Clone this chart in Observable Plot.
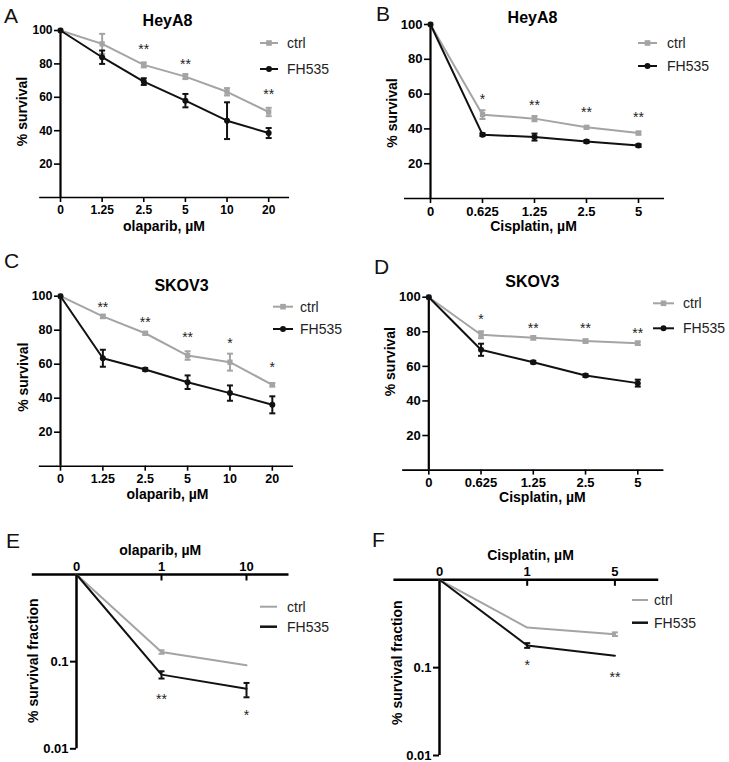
<!DOCTYPE html>
<html>
<head>
<meta charset="utf-8">
<script src="https://cdn.jsdelivr.net/npm/d3@7"></script>
<script src="https://cdn.jsdelivr.net/npm/@observablehq/plot@0.6"></script>
<style>
  html, body { margin: 0; padding: 0; background: #fff; }
  #fig { position: relative; width: 729px; height: 762px; overflow: hidden; background: #fff;
         font-family: "Liberation Sans", Arial, sans-serif; }
  .panel { position: absolute; }
  #overlay { position: absolute; left: 0; top: 0; pointer-events: none; }
</style>
</head>
<body>
<div id="fig"></div>
<script>
// ---------------- DATA ----------------
const olaparibDoses = ["0", "1.25", "2.5", "5", "10", "20"];
const cisplatinDoses = ["0", "0.625", "1.25", "2.5", "5"];
const survivalTicks = [20, 40, 60, 80, 100];

// A: HeyA8, olaparib
const heyA8OlaCtrl    = [100, 92, 79.4, 72.4, 63.3, 51.2];
const heyA8OlaCtrlErr = [0, 6, 1.5, 1.5, 2.2, 2.5];
const heyA8OlaFH      = [100, 84, 69.4, 58, 46, 38.6];
const heyA8OlaFHErr   = [0, 4, 2, 4, 11, 3];
const heyA8OlaSig     = ["", "", "**", "**", "", "**"];
const heyA8OlaSigY    = [null, null, 91, 82, null, 64];

// B: HeyA8, cisplatin
const heyA8CisCtrl    = [100, 48.2, 45.9, 40.9, 37.6];
const heyA8CisCtrlErr = [0, 2.5, 1.5, 0.8, 0.8];
const heyA8CisFH      = [100, 36.7, 35.3, 32.7, 30.4];
const heyA8CisFHErr   = [0, 0.8, 2, 0.8, 0.8];
const heyA8CisSig     = ["", "*", "**", "**", "**"];
const heyA8CisSigY    = [null, 59.3, 56, 51.6, 48.8];

// C: SKOV3, olaparib
const skov3OlaCtrl    = [100, 88.1, 78.2, 65.1, 61.2, 47.9];
const skov3OlaCtrlErr = [0, 1, 0.8, 2.5, 5, 1];
const skov3OlaFH      = [100, 63.5, 56.9, 49.4, 43, 36.1];
const skov3OlaFHErr   = [0, 5, 0.8, 4, 4.5, 5];
const skov3OlaSig     = ["", "**", "**", "**", "*", "*"];
const skov3OlaSigY    = [null, 95.9, 86.7, 77.9, 74.3, 60.2];

// D: SKOV3, cisplatin
const skov3CisCtrl    = [100, 78.3, 76.5, 74.6, 73.4];
const skov3CisCtrlErr = [0, 2, 1, 1, 1];
const skov3CisFH      = [100, 69.6, 62.4, 54.7, 50.3];
const skov3CisFHErr   = [0, 3.5, 0.8, 0.8, 2];
const skov3CisSig     = ["", "*", "**", "**", "**"];
const skov3CisSigY    = [null, 89.4, 84.2, 84.2, 81.3];

// E: survival fraction, olaparib (log scale)
const colonyOlaDoses  = ["0", "1", "10"];
const colonyOlaCtrl   = [1, 0.129, 0.0908];
const colonyOlaCtrlLo = [null, 0.123, null];
const colonyOlaCtrlHi = [null, 0.135, null];
const colonyOlaFH     = [1, 0.071, 0.049];
const colonyOlaFHLo   = [null, 0.064, 0.039];
const colonyOlaFHHi   = [null, 0.0775, 0.057];
const colonyOlaSig    = ["", "**", "*"];
const colonyOlaSigY   = [null, 0.041, 0.0265];

// F: survival fraction, cisplatin (log scale)
const colonyCisDoses  = ["0", "1", "5"];
const colonyCisCtrl   = [1, 0.286, 0.240];
const colonyCisCtrlLo = [null, null, 0.229];
const colonyCisCtrlHi = [null, null, 0.252];
const colonyCisFH     = [1, 0.179, 0.137];
const colonyCisFHLo   = [null, 0.168, null];
const colonyCisFHHi   = [null, 0.19, null];
const colonyCisSig    = ["", "*", "**"];
const colonyCisSigY   = [null, 0.117, 0.0865];
const fractionTicks   = [0.01, 0.1];
const fractionTickLabels = ["0.01", "0.1"];

// ---------------- STYLE ----------------
const GRAY = "#a4a4a4";
const BLACK = "#111111";
const FONT = "'Liberation Sans', Arial, sans-serif";
const capSym = {draw(ctx) { ctx.moveTo(-3, 0); ctx.lineTo(3, 0); }};
const inTickSym = {draw(ctx) { ctx.moveTo(0, 0); ctx.lineTo(0, 6); }};

const fig = document.getElementById("fig");

function place(el, left, top) {
  const div = document.createElement("div");
  div.className = "panel";
  div.style.left = left + "px";
  div.style.top = top + "px";
  div.appendChild(el);
  fig.appendChild(div);
}

function rowsLinear(values, errs) {
  return values.map((v, i) => ({i, v, lo: v - errs[i], hi: v + errs[i], err: errs[i]}));
}
function rowsLog(values, lo, hi) {
  return values.map((v, i) => ({i, v, lo: lo[i], hi: hi[i], err: lo[i] != null ? 1 : 0}));
}

function errorMarks(rows, color, sw) {
  const e = rows.filter(d => d.err > 0);
  return [
    Plot.ruleX(e, {x: "i", y1: "lo", y2: "hi", stroke: color, strokeWidth: sw}),
    Plot.dot(e, {x: "i", y: "lo", symbol: capSym, stroke: color, strokeWidth: sw, fill: "none"}),
    Plot.dot(e, {x: "i", y: "hi", symbol: capSym, stroke: color, strokeWidth: sw, fill: "none"})
  ];
}

function survivalPanel(cfg) {
  const n = cfg.doses.length;
  const idx = cfg.doses.map((_, i) => i);
  const c = rowsLinear(cfg.ctrl, cfg.ctrlErr);
  const f = rowsLinear(cfg.fh, cfg.fhErr);
  const sig = cfg.sig.map((s, i) => ({i, s, y: cfg.sigY[i]})).filter(d => d.s);
  const [fl, fr, ft, fb] = cfg.frame;
  return Plot.plot({
    width: cfg.w, height: cfg.h,
    marginLeft: fl, marginRight: cfg.w - fr, marginTop: ft, marginBottom: cfg.h - fb,
    x: {type: "linear", domain: [0, n - 0.5]},
    y: {type: "linear", domain: [0, 100]},
    style: {background: "transparent", overflow: "visible", fontFamily: FONT, color: "black"},
    marks: [
      Plot.ruleY([0], {x1: -0.5, x2: n - 0.5, stroke: "black", strokeWidth: 1.6}),
      Plot.ruleX([0], {stroke: "black", strokeWidth: 2.2}),
      Plot.axisY(survivalTicks, {tickSize: 6, tickPadding: 2, strokeWidth: 1.6, fontWeight: "bold", fontSize: cfg.tickFont, label: null}),
      Plot.axisX(idx, {tickFormat: i => cfg.doses[i], tickSize: 5, tickPadding: 3, strokeWidth: 1.6, fontWeight: "bold", fontSize: cfg.tickFont, label: null}),
      Plot.line(c, {x: "i", y: "v", stroke: GRAY, strokeWidth: 2}),
      ...errorMarks(c, GRAY, 2),
      Plot.dot(c, {x: "i", y: "v", symbol: "square", r: 3, fill: GRAY}),
      Plot.line(f, {x: "i", y: "v", stroke: BLACK, strokeWidth: 2}),
      ...errorMarks(f, BLACK, 2),
      Plot.dot(f, {x: "i", y: "v", r: 3, fill: BLACK}),
      Plot.text(sig, {x: "i", y: "y", text: "s", fontSize: 14, dy: 4, fill: "#222"}),
      Plot.text([cfg.title], {text: d => d, frameAnchor: "top", textAnchor: "middle", dx: cfg.title_dx, dy: cfg.title_dy, fontSize: 16, fontWeight: "bold"}),
      Plot.text([cfg.xLabel], {text: d => d, frameAnchor: "bottom", textAnchor: "middle", dx: cfg.xl_dx, dy: cfg.xl_dy, fontSize: 14, fontWeight: "bold"}),
      Plot.text(["% survival"], {text: d => d, frameAnchor: "left", textAnchor: "middle", rotate: -90, dx: cfg.yl_dx, dy: cfg.yl_dy, fontSize: 14, fontWeight: "bold"})
    ]
  });
}

function fractionPanel(cfg) {
  const n = cfg.doses.length;
  const idx = cfg.doses.map((_, i) => i);
  const c = rowsLog(cfg.ctrl, cfg.ctrlLo, cfg.ctrlHi);
  const f = rowsLog(cfg.fh, cfg.fhLo, cfg.fhHi);
  const sig = cfg.sig.map((s, i) => ({i, s, y: cfg.sigY[i]})).filter(d => d.s);
  const [fl, fr, ft, fb] = cfg.frame;
  return Plot.plot({
    width: cfg.w, height: cfg.h,
    marginLeft: fl, marginRight: cfg.w - fr, marginTop: ft, marginBottom: cfg.h - fb,
    x: {type: "linear", domain: [0, n - 0.5]},
    y: {type: "log", domain: [0.01, 1]},
    style: {background: "transparent", overflow: "visible", fontFamily: FONT, color: "black"},
    marks: [
      Plot.ruleY([1], {x1: -0.52, x2: n - 0.5, stroke: "black", strokeWidth: 2.5}),
      Plot.ruleX([0], {stroke: "black", strokeWidth: 2.5}),
      Plot.axisY(fractionTicks, {tickFormat: d => fractionTickLabels[fractionTicks.indexOf(d)], tickSize: 6, tickPadding: 2, strokeWidth: 2, fontWeight: "bold", fontSize: 13, label: null}),
      Plot.axisX(idx, {anchor: "top", tickFormat: i => cfg.doses[i], tickSize: 0, tickPadding: 4, fontWeight: "bold", fontSize: 13, label: null}),
      Plot.dot(idx.filter(i => i > 0), {x: i => i, y: () => 1, symbol: inTickSym, stroke: "black", strokeWidth: 2, fill: "none"}),
      Plot.line(c, {x: "i", y: "v", stroke: GRAY, strokeWidth: 2}),
      ...errorMarks(c, GRAY, 2),
      Plot.line(f, {x: "i", y: "v", stroke: BLACK, strokeWidth: 2}),
      ...errorMarks(f, BLACK, 2),
      Plot.text(sig, {x: "i", y: "y", text: "s", fontSize: 14, dy: 4, fill: "#222"}),
      Plot.text([cfg.xLabel], {text: d => d, frameAnchor: "top", textAnchor: "middle", dx: cfg.xl_dx, dy: cfg.xl_dy, fontSize: 14, fontWeight: "bold"}),
      Plot.text(["% survival fraction"], {text: d => d, frameAnchor: "left", textAnchor: "middle", rotate: -90, dx: cfg.yl_dx, dy: cfg.yl_dy, fontSize: 14, fontWeight: "bold"})
    ]
  });
}

// ---------------- PANELS ----------------
place(survivalPanel({
  doses: olaparibDoses, ctrl: heyA8OlaCtrl, ctrlErr: heyA8OlaCtrlErr, fh: heyA8OlaFH, fhErr: heyA8OlaFHErr,
  sig: heyA8OlaSig, sigY: heyA8OlaSigY, title: "HeyA8", xLabel: "olaparib, µM",
  w: 364, h: 250, frame: [60, 289, 30, 197], tickFont: 12,
  title_dx: -7.5, title_dy: -16, xl_dx: -11, xl_dy: 33.5, yl_dx: -38, yl_dy: -2.5
}), 0, 0);

place(survivalPanel({
  doses: cisplatinDoses, ctrl: heyA8CisCtrl, ctrlErr: heyA8CisCtrlErr, fh: heyA8CisFH, fhErr: heyA8CisFHErr,
  sig: heyA8CisSig, sigY: heyA8CisSigY, title: "HeyA8", xLabel: "Cisplatin, µM",
  w: 364, h: 250, frame: [65, 299, 24, 198], tickFont: 13,
  title_dx: -15, title_dy: -12.5, xl_dx: -14, xl_dy: 32.5, yl_dx: -38, yl_dy: 1.5
}), 365, 0);

place(survivalPanel({
  doses: olaparibDoses, ctrl: skov3OlaCtrl, ctrlErr: skov3OlaCtrlErr, fh: skov3OlaFH, fhErr: skov3OlaFHErr,
  sig: skov3OlaSig, sigY: skov3OlaSigY, title: "SKOV3", xLabel: "olaparib, µM",
  w: 364, h: 262, frame: [60, 293, 45.7, 215.7], tickFont: 12.5,
  title_dx: 4.5, title_dy: -16.7, xl_dx: -9.5, xl_dy: 32.5, yl_dx: -37, yl_dy: -4
}), 0, 250);

place(survivalPanel({
  doses: cisplatinDoses, ctrl: skov3CisCtrl, ctrlErr: skov3CisCtrlErr, fh: skov3CisFH, fhErr: skov3CisFHErr,
  sig: skov3CisSig, sigY: skov3CisSigY, title: "SKOV3", xLabel: "Cisplatin, µM",
  w: 364, h: 262, frame: [63.3, 298.4, 46.7, 219.6], tickFont: 13,
  title_dx: -14, title_dy: -21.2, xl_dx: -4, xl_dy: 32, yl_dx: -38, yl_dy: -22
}), 365, 250);

place(fractionPanel({
  doses: colonyOlaDoses, ctrl: colonyOlaCtrl, ctrlLo: colonyOlaCtrlLo, ctrlHi: colonyOlaCtrlHi,
  fh: colonyOlaFH, fhLo: colonyOlaFHLo, fhHi: colonyOlaFHHi, sig: colonyOlaSig, sigY: colonyOlaSigY,
  xLabel: "olaparib, µM", w: 364, h: 262, frame: [76, 288.5, 74, 248.3],
  xl_dx: -22.5, xl_dy: -29, yl_dx: -43, yl_dy: -1
}), 0, 500);

place(fractionPanel({
  doses: colonyCisDoses, ctrl: colonyCisCtrl, ctrlLo: colonyCisCtrlLo, ctrlHi: colonyCisCtrlHi,
  fh: colonyCisFH, fhLo: colonyCisFHLo, fhHi: colonyCisFHHi, sig: colonyCisSig, sigY: colonyCisSigY,
  xLabel: "Cisplatin, µM", w: 364, h: 262, frame: [74, 293.25, 79.3, 255],
  xl_dx: -18.6, xl_dy: -30, yl_dx: -42, yl_dy: -5
}), 365, 500);

// ---------------- OVERLAY: panel letters + legends ----------------
const svg = d3.select(fig).append("svg").attr("id", "overlay").attr("width", 729).attr("height", 762)
  .style("font-family", FONT);

const letters = [
  {t: "A", x: 4, y: 15}, {t: "B", x: 376, y: 13.5}, {t: "C", x: 4, y: 260.5},
  {t: "D", x: 374, y: 266.5}, {t: "E", x: 6, y: 540.5}, {t: "F", x: 372, y: 539.5}
];
svg.selectAll("text.letter").data(letters).join("text").attr("class", "letter")
  .attr("x", d => d.x).attr("y", d => d.y).attr("dy", "0.36em")
  .attr("font-size", 21).attr("fill", "#111").text(d => d.t);

const legendNames = ["ctrl", "FH535"];
const legends = [
  {x1: 260, x2: 278, tx: 287, ys: [43, 69], markers: true},
  {x1: 638, x2: 657, tx: 667, ys: [43, 66], markers: true},
  {x1: 273, x2: 293, tx: 300, ys: [306.7, 329], markers: true},
  {x1: 653, x2: 674, tx: 683, ys: [303.3, 328.3], markers: true},
  {x1: 260, x2: 277, tx: 287, ys: [606.7, 626.7], markers: false},
  {x1: 632, x2: 648, tx: 654, ys: [600, 622.7], markers: false}
];
for (const L of legends) {
  legendNames.forEach((name, k) => {
    const col = k === 0 ? GRAY : BLACK;
    const y = L.ys[k];
    svg.append("line").attr("x1", L.x1).attr("x2", L.x2).attr("y1", y).attr("y2", y)
      .attr("stroke", col).attr("stroke-width", L.markers ? 2 : (k === 0 ? 2 : 2.5));
    if (L.markers) {
      const cx = (L.x1 + L.x2) / 2;
      if (k === 0) svg.append("rect").attr("x", cx - 2.8).attr("y", y - 2.8).attr("width", 5.6).attr("height", 5.6).attr("fill", col);
      else svg.append("circle").attr("cx", cx).attr("cy", y).attr("r", 3).attr("fill", col);
    }
    svg.append("text").attr("x", L.tx).attr("y", y).attr("dy", "0.35em")
      .attr("font-size", 14).attr("fill", "#222").text(name);
  });
}
</script>
</body>
</html>
